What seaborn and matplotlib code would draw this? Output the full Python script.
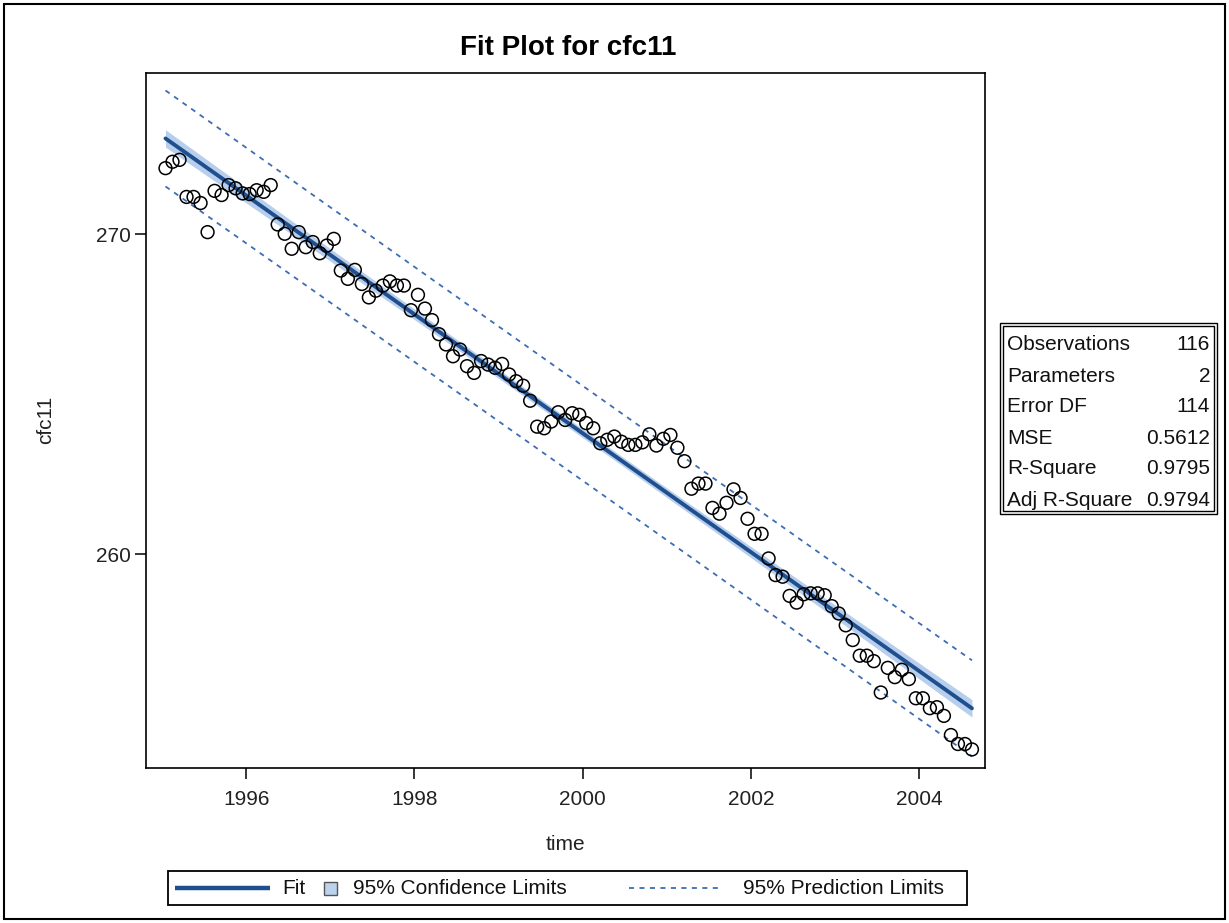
import numpy as np
import pandas as pd
import matplotlib
matplotlib.use("Agg")
import matplotlib.pyplot as plt
import seaborn as sns
from matplotlib.lines import Line2D
from matplotlib.patches import Rectangle
from matplotlib.offsetbox import DrawingArea, TextArea, HPacker, AnchoredOffsetbox

# ---------------- data ----------------
months = pd.date_range("1995-01-01", periods=116, freq="MS")
time = np.asarray(months.year + (months.month - 0.5) / 12.0, dtype=float)

cfc11 = [
    272.07, 272.27, 272.33, 271.17, 271.17, 270.98, 270.07, 271.36, 271.23, 271.54,
    271.44, 271.28, 271.26, 271.38, 271.33, 271.54, 270.31, 270.02, 269.55, 270.07,
    269.60, 269.76, 269.41, 269.65, 269.86, 268.87, 268.61, 268.89, 268.45, 268.03,
    268.24, 268.40, 268.53, 268.40, 268.40, 267.63, 268.11, 267.68, 267.32, 266.88,
    266.56, 266.19, 266.40, 265.88, 265.67, 266.04, 265.93, 265.83, 265.95, 265.62,
    265.41, 265.27, 264.80, 263.99, 263.94, 264.15, 264.44, 264.20, 264.41, 264.36,
    264.10, 263.94, 263.47, 263.58, 263.68, 263.52, 263.42, 263.42, 263.50, 263.75,
    263.40, 263.61, 263.73, 263.33, 262.91, 262.05, 262.21, 262.21, 261.45, 261.27,
    261.61, 262.03, 261.76, 261.11, 260.64, 260.64, 259.87, 259.35, 259.30, 258.70,
    258.49, 258.75, 258.78, 258.78, 258.72, 258.38, 258.15, 257.78, 257.32, 256.83,
    256.83, 256.66, 255.68, 256.45, 256.16, 256.39, 256.10, 255.50, 255.50, 255.19,
    255.22, 254.95, 254.35, 254.07, 254.07, 253.90,
]

x_ticks = [1996, 1998, 2000, 2002, 2004]
y_ticks = [260, 270]

stat_labels = ["Observations", "Parameters", "Error DF", "MSE", "R-Square", "Adj R-Square"]
stat_values = ["116", "2", "114", "0.5612", "0.9795", "0.9794"]

legend_labels = ["Fit", "95% Confidence Limits", "95% Prediction Limits"]

T_CRIT = 1.9810  # t(0.975, df=114)

# ---------------- regression ----------------
y = np.asarray(cfc11, dtype=float)
n = len(y)
slope, intercept = np.polyfit(time, y, 1)
fit = intercept + slope * time
mse = np.sum((y - fit) ** 2) / (n - 2)
xbar = time.mean()
sxx = np.sum((time - xbar) ** 2)
se_mean = np.sqrt(mse * (1.0 / n + (time - xbar) ** 2 / sxx))
se_pred = np.sqrt(mse * (1.0 + 1.0 / n + (time - xbar) ** 2 / sxx))
df = pd.DataFrame({
    "time": time, "cfc11": y, "fit": fit,
    "cl_lo": fit - T_CRIT * se_mean, "cl_hi": fit + T_CRIT * se_mean,
    "pl_lo": fit - T_CRIT * se_pred, "pl_hi": fit + T_CRIT * se_pred,
})

# ---------------- style ----------------
sns.set_theme(style="white")
plt.rcParams["font.family"] = ["Liberation Sans", "DejaVu Sans"]
plt.rcParams["font.size"] = 15

FIT_C = "#1f4f8f"
CL_C = "#9fbfe6"
PL_C = "#3d6db3"
DASH = (0, (2.8, 3.0))

W, H = 1229, 923
fig = plt.figure(figsize=(W / 100, H / 100), dpi=100)
fig.patch.set_facecolor("white")

ax_l, ax_r, ax_t, ax_b = 146, 985, 72.5, 768
ax = fig.add_axes([ax_l / W, 1 - ax_b / H, (ax_r - ax_l) / W, (ax_b - ax_t) / H])

ax.fill_between(df["time"], df["cl_lo"], df["cl_hi"], color=CL_C, alpha=0.75, lw=0, zorder=1)
sns.lineplot(data=df, x="time", y="fit", color=FIT_C, lw=2.8, ax=ax, zorder=3)
sns.lineplot(data=df, x="time", y="pl_hi", color=PL_C, lw=1.3, linestyle=DASH, ax=ax, zorder=2)
sns.lineplot(data=df, x="time", y="pl_lo", color=PL_C, lw=1.3, linestyle=DASH, ax=ax, zorder=2)
sns.scatterplot(data=df, x="time", y="cfc11", marker="o", s=85, facecolor="none",
                edgecolor="black", linewidth=1.1, ax=ax, zorder=4)

ax.set_xlim(1994.81, 2004.78)
ax.set_ylim(253.32, 275.06)
ax.set_xticks(x_ticks)
ax.set_xticklabels([str(t) for t in x_ticks])
ax.set_yticks(y_ticks)
ax.set_yticklabels([str(t) for t in y_ticks])
ax.tick_params(axis="both", which="major", direction="out", length=8, width=1.1,
               color="black", labelsize=15, labelcolor="#222222",
               bottom=True, left=True, top=False, right=False)
ax.tick_params(axis="x", pad=8)
ax.tick_params(axis="y", pad=3)
for s in ax.spines.values():
    s.set_visible(True)
    s.set_color("black")
    s.set_linewidth(1.2)

ax.set_xlabel("time", fontsize=15, color="#222222", va="center")
ax.set_ylabel("cfc11", fontsize=15, color="#222222", va="center")
ax.xaxis.set_label_coords((565.5 - ax_l) / (ax_r - ax_l), -(845 - ax_b) / (ax_b - ax_t))
ax.yaxis.set_label_coords(-(ax_l - 46) / (ax_r - ax_l), 0.5)

# title
fig.text(568 / W, 1 - 55 / H, "Fit Plot for cfc11", ha="center", va="baseline",
         fontsize=20, fontweight="bold", color="black")

# ---------------- legend (bottom) ----------------
def spacer(w):
    return DrawingArea(w, 14, 0, 0)

PT = 72 / 100.0  # px -> pt
h = 14
da_fit = DrawingArea(95 * PT, h, 0, 0)
da_fit.add_artist(Line2D([0, 95 * PT], [h / 2, h / 2], color=FIT_C, lw=3.2, solid_capstyle="butt"))
da_sq = DrawingArea(13 * PT, h, 0, 0)
da_sq.add_artist(Rectangle((0, (h - 13 * PT) / 2), 13 * PT, 13 * PT, facecolor="#bcd3ee",
                           edgecolor="#555555", lw=1.0))
da_pl = DrawingArea(92 * PT, h, 0, 0)
da_pl.add_artist(Line2D([0, 92 * PT], [h / 2, h / 2], color=PL_C, lw=1.3, linestyle=DASH))

tp = dict(size=15, color="#111111")
children = [
    da_fit, spacer(12 * PT), TextArea(legend_labels[0], textprops=tp), spacer(19 * PT),
    da_sq, spacer(16 * PT), TextArea(legend_labels[1], textprops=tp), spacer(62 * PT),
    da_pl, spacer(22 * PT), TextArea(legend_labels[2], textprops=tp), spacer(16 * PT),
]
hp = HPacker(children=children, align="center", pad=0, sep=0)
anch = AnchoredOffsetbox(loc="center", child=hp, pad=0.45, borderpad=0, frameon=True,
                         bbox_to_anchor=(567.5 / W, 1 - 888 / H),
                         bbox_transform=fig.transFigure)
anch.patch.set_boxstyle("square", pad=0)
anch.patch.set_edgecolor("black")
anch.patch.set_linewidth(1.3)
fig.add_artist(anch)

# ---------------- statistics table (right) ----------------
def frect(x0, y0, x1, y1, lw):
    fig.add_artist(Rectangle((x0 / W, 1 - y1 / H), (x1 - x0) / W, (y1 - y0) / H,
                             transform=fig.transFigure, fill=False, edgecolor="black", lw=lw))

frect(1000, 323, 1217, 514, 1.0)
frect(1003, 326, 1214, 511, 1.0)
row_y = [345, 376, 407, 438, 469, 500]
for lab, val, yy in zip(stat_labels, stat_values, row_y):
    fig.text(1007 / W, 1 - yy / H, lab, ha="left", va="center", fontsize=15, color="#111111")
    fig.text(1210 / W, 1 - yy / H, val, ha="right", va="center", fontsize=15, color="#111111")

# outer frame of the whole graph
fig.add_artist(Rectangle((4 / W, 4 / H), (W - 8) / W, (H - 8) / H, transform=fig.transFigure,
                         fill=False, edgecolor="black", lw=1.5))

fig.savefig("out.png", dpi=100, facecolor="white")
